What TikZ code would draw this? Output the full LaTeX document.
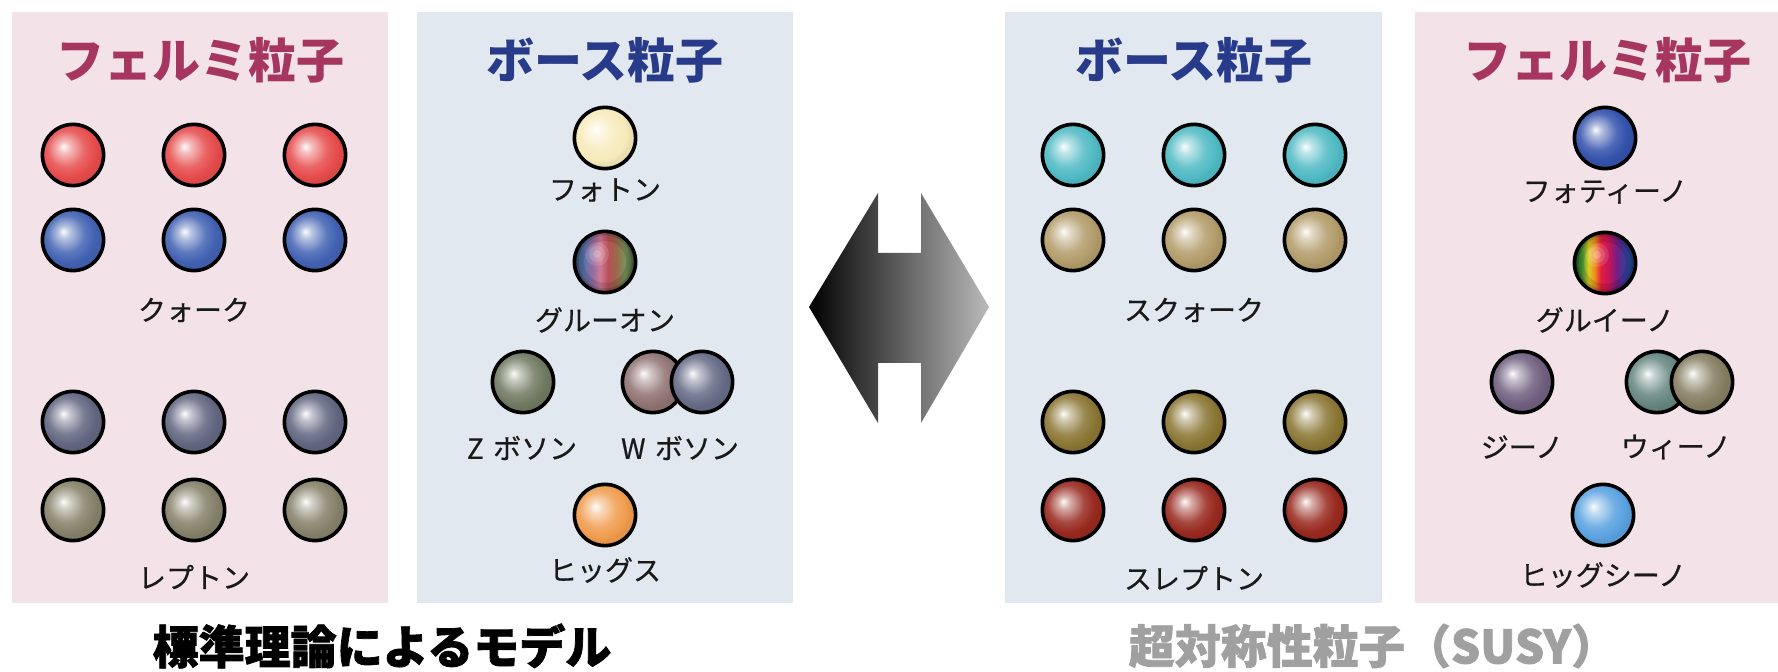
\documentclass[tikz,border=0pt]{standalone}
\usepackage{fontspec}
\setmainfont{Noto Sans CJK JP}
\newfontfamily\capfont{Noto Sans CJK JP}[BoldFeatures={FakeBold=1.6}]
\newfontfamily\lblfont{Noto Sans CJK JP}[FakeBold=0.5]

% panel and text colours
\definecolor{fermibg}{RGB}{244,226,233}
\definecolor{bosonbg}{RGB}{225,232,240}
\definecolor{fermitxt}{RGB}{166,54,96}
\definecolor{bosontxt}{RGB}{40,58,138}
\definecolor{susygray}{RGB}{160,160,160}

% particle body colours
\definecolor{cQuarkR}{RGB}{230,76,76}
\definecolor{cQuarkB}{RGB}{66,98,178}
\definecolor{cLepA}{RGB}{98,102,128}
\definecolor{cLepB}{RGB}{134,129,106}
\definecolor{cPhoton}{RGB}{246,234,186}
\definecolor{cZ}{RGB}{112,122,98}
\definecolor{cWa}{RGB}{144,114,114}
\definecolor{cWb}{RGB}{102,107,134}
\definecolor{cHiggs}{RGB}{240,156,78}
\definecolor{cSqA}{RGB}{80,186,196}
\definecolor{cSqB}{RGB}{178,156,106}
\definecolor{cSlA}{RGB}{138,118,52}
\definecolor{cSlB}{RGB}{152,42,32}
\definecolor{cPhotino}{RGB}{52,82,172}
\definecolor{cZino}{RGB}{112,96,128}
\definecolor{cWinoA}{RGB}{102,134,128}
\definecolor{cWinoB}{RGB}{134,126,98}
\definecolor{cHiggsino}{RGB}{90,162,224}

% gluon stripes
\definecolor{gA}{RGB}{60,86,130}
\definecolor{gB}{RGB}{90,116,170}
\definecolor{gC}{RGB}{150,108,160}
\definecolor{gD}{RGB}{206,122,150}
\definecolor{gE}{RGB}{184,80,88}
\definecolor{gF}{RGB}{156,104,76}
\definecolor{gG}{RGB}{120,148,92}
\definecolor{gH}{RGB}{80,100,66}
% gluino stripes
\definecolor{nA}{RGB}{30,90,40}
\definecolor{nB}{RGB}{70,156,52}
\definecolor{nC}{RGB}{222,204,34}
\definecolor{nD}{RGB}{238,140,32}
\definecolor{nE}{RGB}{226,30,62}
\definecolor{nF}{RGB}{196,20,92}
\definecolor{nG}{RGB}{118,30,130}
\definecolor{nH}{RGB}{52,62,160}
\definecolor{nI}{RGB}{22,80,130}

% shadings: the central 50bp square is what covers a ball
\colorlet{sphc}{red}
\pgfdeclareradialshading[sphc]{sphere}{\pgfpoint{-8bp}{7bp}}{%
  color(0bp)=(sphc!2!white); color(5bp)=(sphc!38!white);
  color(15bp)=(sphc!86!white); color(22bp)=(sphc);
  color(25bp)=(sphc!95!black); color(50bp)=(sphc!95!black)}

\pgfdeclarehorizontalshading{gluonsh}{100bp}{%
  color(0bp)=(gA); color(25bp)=(gA); color(32.5bp)=(gB); color(40bp)=(gC);
  color(46bp)=(gD); color(52.5bp)=(gE); color(59bp)=(gF); color(66bp)=(gG);
  color(75bp)=(gH); color(100bp)=(gH)}
\pgfdeclarehorizontalshading{gluinosh}{100bp}{%
  color(0bp)=(nA); color(25bp)=(nA); color(31bp)=(nB); color(36.5bp)=(nC);
  color(41.5bp)=(nD); color(46.5bp)=(nE); color(53bp)=(nF); color(59.5bp)=(nG);
  color(66.5bp)=(nH); color(75bp)=(nI); color(100bp)=(nI)}

\tikzset{
  sphere color/.code={\colorlet{sphc}{#1}},
  ballbase/.style={circle, draw=black, line width=1.8pt,
    minimum size=30.6pt, inner sep=0pt},
  ball/.style={ballbase, shading=sphere, sphere color=#1},
  stripeball/.style={ballbase, shading=#1,
    path picture={
      \coordinate (pc) at (path picture bounding box.center);
      % darker rim and a soft highlight
      \draw[black, opacity=0.12, line width=5pt] (pc) circle (13pt);
      \draw[black, opacity=0.15, line width=2.5pt] (pc) circle (14.5pt);
      \fill[white, opacity=0.12] ([xshift=-4pt,yshift=4pt]pc) circle (6pt);
      \fill[white, opacity=0.15] ([xshift=-4pt,yshift=4pt]pc) circle (4pt);
      \fill[white, opacity=0.2] ([xshift=-4pt,yshift=4pt]pc) circle (2pt);
    }},
  title/.style={font=\fontsize{24pt}{24pt}\selectfont\bfseries, inner sep=0pt},
  lbl/.style={font=\lblfont\fontsize{14pt}{14pt}\selectfont, inner sep=0pt, text=black!90},
  caption/.style={font=\capfont\fontsize{23pt}{23pt}\selectfont\bfseries, inner sep=0pt},
}

\begin{document}
\begin{tikzpicture}[x=0.5pt, y=-0.5pt]
\useasboundingbox (0,0) rectangle (1778,672);
\fill[white] (0,0) rectangle (1778,672);

% panels
\fill[fermibg] (12,12) rectangle (388,603);
\fill[bosonbg] (417,12) rectangle (793,603);
\fill[bosonbg] (1005,12) rectangle (1382,603);
\fill[fermibg] (1415,12) rectangle (1778,603);

% titles
\node[title, text=fermitxt] (t1) at (200,60) {フェルミ粒子};
\node[title, text=bosontxt] (t2) at (605,60) {ボース粒子};
\node[title, text=bosontxt] (t3) at (1194,60) {ボース粒子};
\node[title, text=fermitxt] (t4) at (1607,60) {フェルミ粒子};

% standard model fermions
\node[ball=cQuarkR] (q1) at (73,155) {};
\node[ball=cQuarkR] (q2) at (194,155) {};
\node[ball=cQuarkR] (q3) at (315,155) {};
\node[ball=cQuarkB] (q4) at (73,240) {};
\node[ball=cQuarkB] (q5) at (194,240) {};
\node[ball=cQuarkB] (q6) at (315,240) {};
\node[lbl] (lq) at (194,310) {クォーク};
\node[ball=cLepA] (l1) at (73,422) {};
\node[ball=cLepA] (l2) at (194,422) {};
\node[ball=cLepA] (l3) at (315,422) {};
\node[ball=cLepB] (l4) at (73,510) {};
\node[ball=cLepB] (l5) at (194,510) {};
\node[ball=cLepB] (l6) at (315,510) {};
\node[lbl] (ll) at (194,577) {レプトン};

% standard model bosons
\node[ball=cPhoton] (ph) at (605,138) {};
\node[lbl] (lph) at (605,190) {フォトン};
\node[stripeball=gluonsh] (gl) at (605,262) {};
\node[lbl] (lgl) at (605,320) {グルーオン};
\node[ball=cZ] (zb) at (523,382) {};
\node[ball=cWa] (wa) at (653,382) {};
\node[ball=cWb] (wb) at (702,382) {};
\node[lbl] (lz) at (522,448) {Z\,\,ボソン};
\node[lbl] (lw) at (680,448) {W\,\,ボソン};
\node[ball=cHiggs] (hg) at (605,515) {};
\node[lbl] (lhg) at (605,570) {ヒッグス};

% double arrow between the two models
\shade[left color=black, right color=black!27]
  (809,307) -- (878,193) -- (878,253) -- (921,253) -- (921,193)
  -- (989,307) -- (921,423) -- (921,363) -- (878,363) -- (878,423) -- cycle;

% superpartner bosons
\node[ball=cSqA] (s1) at (1073,155) {};
\node[ball=cSqA] (s2) at (1194,155) {};
\node[ball=cSqA] (s3) at (1315,155) {};
\node[ball=cSqB] (s4) at (1073,240) {};
\node[ball=cSqB] (s5) at (1194,240) {};
\node[ball=cSqB] (s6) at (1315,240) {};
\node[lbl] (lsq) at (1194,310) {スクォーク};
\node[ball=cSlA] (e1) at (1073,422) {};
\node[ball=cSlA] (e2) at (1194,422) {};
\node[ball=cSlA] (e3) at (1315,422) {};
\node[ball=cSlB] (e4) at (1073,510) {};
\node[ball=cSlB] (e5) at (1194,510) {};
\node[ball=cSlB] (e6) at (1315,510) {};
\node[lbl] (lsl) at (1194,578) {スレプトン};

% superpartner fermions
\node[ball=cPhotino] (pn) at (1605,138) {};
\node[lbl] (lpn) at (1605,192) {フォティーノ};
\node[stripeball=gluinosh] (gn) at (1605,263) {};
\node[lbl] (lgn) at (1605,320) {グルイーノ};
\node[ball=cZino] (zn) at (1522,382) {};
\node[ball=cWinoA] (wna) at (1657,382) {};
\node[ball=cWinoB] (wnb) at (1702,382) {};
\node[lbl] (lzn) at (1522,447) {ジーノ};
\node[lbl] (lwn) at (1676,447) {ウィーノ};
\node[ball=cHiggsino] (hn) at (1603,515) {};
\node[lbl] (lhn) at (1603,575) {ヒッグシーノ};

% captions
\node[caption, text=black] (c1) at (382,646) {標準理論によるモデル};
\node[caption, text=susygray] (c2) at (1373,646) {超対称性粒子（SUSY）};
\end{tikzpicture}
\end{document}
